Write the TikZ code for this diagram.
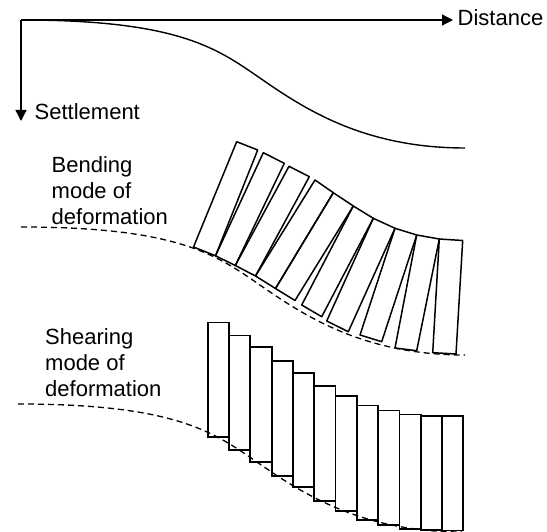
\documentclass[tikz,border=0pt]{standalone}
\usepackage{fontspec}
\setmainfont{Liberation Sans}
\usetikzlibrary{arrows.meta}

\tikzset{
  axis/.style={line width=1.3pt, -{Triangle[length=11pt,width=11pt]}},
  settlecurve/.style={line width=1.4pt},
  ground/.style={line width=1.3pt, dash pattern=on 6pt off 4pt},
  bendcol/.style={line width=1.5pt, line join=round},
  shearcol/.style={line width=1.8pt},
  lbl/.style={font=\fontsize{22}{26}\selectfont, inner sep=0pt, align=left},
}

\begin{document}
\begin{tikzpicture}[x=1pt, y=-1pt]
	\useasboundingbox (0,0) rectangle (547,532);

	% axes
	\coordinate (O) at (21,20);
	\coordinate (xend) at (453,20);
	\coordinate (yend) at (21,121);
	\draw [axis] (O) -- (xend);
	\draw [axis] (O) -- (yend);
	\node [lbl, anchor=base west] (dist) at (457.5,26) {Distance};
	\node [lbl, anchor=base west] (settle) at (34.5,120) {Settlement};

	% settlement trough
	\draw [settlecurve] (21,20) .. controls (175,20) and (215,47) .. (257,76)
		.. controls (300,105.7) and (360,148) .. (465,148);

	% bending mode
	\node [lbl, anchor=north west] (bendlbl) at (51.5,156.3) {Bending\\mode of\\deformation};
	\draw [ground, shift={(0,207)}] (21,20) .. controls (175,20) and (215,47) .. (257,76)
		.. controls (300,105.7) and (360,148) .. (465,148);
	\draw [bendcol] (236.7,141.7) -- (257.7,150) -- (215.5,255.8) -- (193.5,247) -- cycle;
	\draw [bendcol] (263.3,152.7) -- (284.3,163.3) -- (235.3,265.5) -- (215.5,255.8) -- cycle;
	\draw [bendcol] (289,166.3) -- (309.3,176.7) -- (255.5,276) -- (235.3,265.5) -- cycle;
	\draw [bendcol] (315,180) -- (333.3,192.7) -- (275.5,288.5) -- (255.5,276) -- cycle;
	\draw [bendcol] (333.3,192.7) -- (353.3,206) -- (295,300.5) -- (275.5,288.5) -- cycle;
	\draw [bendcol] (353.3,206) -- (373.3,218.3) -- (321.7,316.7) -- (301.7,305) -- cycle;
	\draw [bendcol] (373.3,218.3) -- (395,228.3) -- (348.3,331.7) -- (326.7,321) -- cycle;
	\draw [bendcol] (395,228.3) -- (416.7,235) -- (381.7,341.7) -- (360,335) -- cycle;
	\draw [bendcol] (416.7,235) -- (439.3,239) -- (416.7,350.7) -- (395,348) -- cycle;
	\draw [bendcol] (439.3,239) -- (462.7,240.5) -- (456,354) -- (432.7,352.7) -- cycle;

	% shearing mode
	\node [lbl, anchor=north west] (shearlbl) at (45,328.3) {Shearing\\mode of\\deformation};
	\draw [ground, shift={(-3,384)}] (21,20) .. controls (175,20) and (215,47) .. (257,76)
		.. controls (300,105.7) and (360,148) .. (465,148);
	\foreach \i/\b in {0/437, 1/450, 2/461.7, 3/475.7, 4/487.3, 5/500.7,
		6/510.7, 7/520, 8/525, 9/529, 10/530.2, 11/530.5}
		\draw [shearcol] ({207.7+21.3*\i},\b) rectangle ++(21.3,-114.5);

\end{tikzpicture}
\end{document}
